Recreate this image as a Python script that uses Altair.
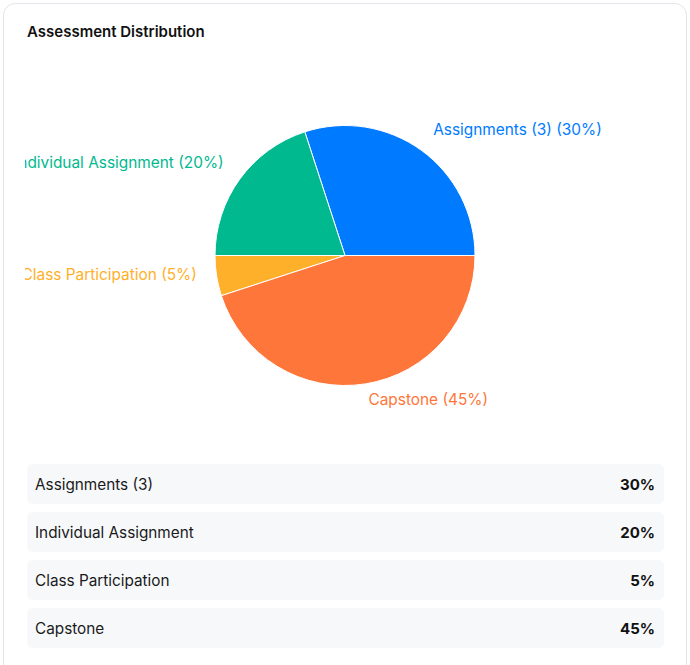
import math
import altair as alt
import pandas as pd

# ---- data ----
title_text = ["Assessment Distribution"]
categories = ["Assignments (3)", "Individual Assignment", "Class Participation", "Capstone"]
weights = [30, 20, 5, 45]
slice_colors = ["#007bff", "#00b98f", "#ffb02a", "#ff763a"]

FONT = "Inter"

df = pd.DataFrame({"category": categories, "weight": weights, "order": list(range(len(categories)))})

theta_scale = alt.Scale(domain=[0, 100], range=[2.5 * math.pi, 0.5 * math.pi])
color_scale = alt.Scale(domain=categories, range=slice_colors)

# card background
card = alt.Chart(pd.DataFrame({"a": [0]})).mark_rect(
    fill="white", stroke="#e4e5ea", strokeWidth=1, cornerRadius=12
).encode(x=alt.value(-21.5), x2=alt.value(661.5), y=alt.value(3.5), y2=alt.value(740))

title = alt.Chart(pd.DataFrame({"t": title_text})).mark_text(
    align="left", baseline="middle", font=FONT, fontSize=15, fontWeight=600, color="#111111"
).encode(text="t:N", x=alt.value(2), y=alt.value(32))

pie_base = alt.Chart(df).transform_window(
    cum="sum(weight)", sort=[alt.SortField("order")], frame=[None, 0]
).transform_calculate(
    start="datum.cum - datum.weight",
    mid="datum.cum - datum.weight / 2",
    label="datum.category + ' (' + datum.weight + '%)'",
)

arcs = pie_base.mark_arc(outerRadius=130, stroke="white", strokeWidth=1).encode(
    theta=alt.Theta("start:Q", scale=theta_scale),
    theta2="cum:Q",
    color=alt.Color("category:N", scale=color_scale, legend=None),
    x=alt.value(320),
    y=alt.value(255.5),
)

labels = pie_base.mark_text(
    radius=150,
    font=FONT,
    fontSize=15.4,
    baseline="alphabetic",
    dy=1,
    clip=True,
    align=alt.ExprRef(expr="cos(2 * PI * datum.mid / 100) < 0 ? 'right' : 'left'"),
).encode(
    theta=alt.Theta("mid:Q", scale=theta_scale),
    text="label:N",
    color=alt.Color("category:N", scale=color_scale, legend=None),
    x=alt.value(320),
    y=alt.value(255.5),
)

y_scale = alt.Scale(type="band", domain=categories, range=[464, 648], paddingInner=8 / 48, paddingOuter=0)

table_base = alt.Chart(df).transform_calculate(pct="datum.weight + '%'")

rows = table_base.mark_rect(fill="#f7f8fa", cornerRadius=6).encode(
    y=alt.Y("category:N", scale=y_scale, axis=None),
    x=alt.value(2),
    x2=alt.value(639),
)

row_names = table_base.mark_text(
    align="left", baseline="middle", font=FONT, fontSize=15.3, dy=1, color="#1a1a1a"
).encode(
    y=alt.Y("category:N", scale=y_scale, axis=None),
    x=alt.value(10),
    text="category:N",
)

row_values = table_base.mark_text(
    align="right", baseline="middle", font=FONT, fontSize=15, fontWeight="bold", dy=1, color="#111111"
).encode(
    y=alt.Y("category:N", scale=y_scale, axis=None),
    x=alt.value(630),
    text="pct:N",
)

chart = alt.layer(card, title, arcs, labels, rows, row_names, row_values).properties(
    width=640,
    height=665,
    autosize=alt.AutoSizeParams(type="none"),
    padding={"left": 25, "right": 25, "top": 0, "bottom": 0},
    background="white",
).configure_view(stroke=None)

chart.save("out.html", embed_options={"renderer": "svg", "actions": False})
